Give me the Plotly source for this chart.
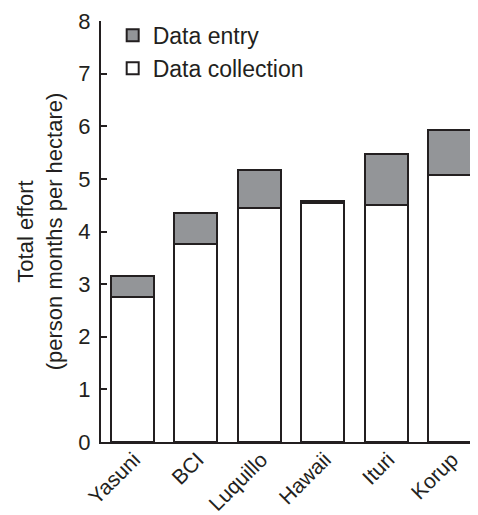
import plotly.graph_objects as go

sites = ["Yasuni", "BCI", "Luquillo", "Hawaii", "Ituri", "Korup"]
data_collection = [2.75, 3.77, 4.44, 4.54, 4.50, 5.07]
data_entry = [0.40, 0.58, 0.73, 0.04, 0.97, 0.86]
y_ticks = [0, 1, 2, 3, 4, 5, 6, 7, 8]

line = dict(color="#231f20", width=2)

fig = go.Figure()
fig.add_trace(go.Bar(
    x=sites, y=data_collection, name="Data collection",
    marker=dict(color="white", line=line), width=0.68,
))
fig.add_trace(go.Bar(
    x=sites, y=data_entry, name="Data entry",
    marker=dict(color="#939598", line=line), width=0.68,
))

fig.update_layout(
    width=470, height=507,
    barmode="stack",
    plot_bgcolor="white", paper_bgcolor="white",
    margin=dict(l=93, r=0, t=13, b=73, autoexpand=False),
    font=dict(family="Liberation Sans, Arial, sans-serif", size=22, color="#231f20"),
    showlegend=True,
    legend=dict(
        x=0.031, y=1.017, xanchor="left", yanchor="top",
        traceorder="reversed",
        font=dict(size=23), bgcolor="rgba(0,0,0,0)",
        itemwidth=30,
    ),
    xaxis=dict(
        range=[-0.49, 5.44], showline=True, linecolor="#231f20", linewidth=2,
        ticks="", tickangle=-45, tickfont=dict(size=21), showgrid=False,
        automargin=False, ticklabelstandoff=-5, ticklabelshift=2,
    ),
    yaxis=dict(
        range=[0, 8], tickvals=y_ticks, showline=True, linecolor="#231f20", linewidth=2,
        ticks="inside", ticklen=6, tickwidth=1.5, tickcolor="#231f20",
        tickfont=dict(size=22), showgrid=False, zeroline=False, automargin=False,
        ticklabelstandoff=4,
        title=dict(text="Total effort<br>(person months per hectare)", font=dict(size=22), standoff=10),
    ),
)

fig.write_html("out.html")
